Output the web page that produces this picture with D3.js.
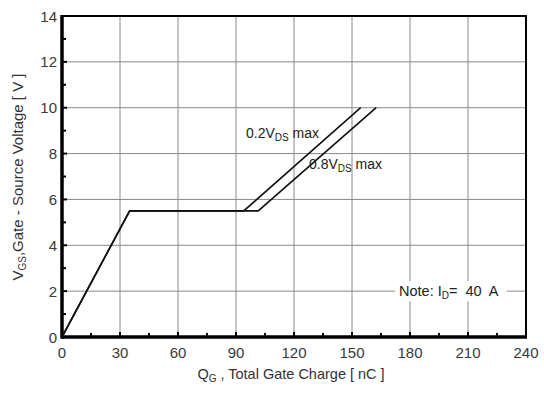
<!DOCTYPE html>
<html><head><meta charset="utf-8">
<script src="https://cdn.jsdelivr.net/npm/d3@7"></script>
<style>
body{margin:0;background:#fff;}
text{font-family:"Liberation Sans",Arial,sans-serif;}
</style></head>
<body><svg id="c" width="544" height="394"></svg>
<script>
const xTicks = [0,30,60,90,120,150,180,210,240];
const yTicks = [0,2,4,6,8,10,12,14];
const xMinor = [15,45,75,105,135,165,195,225];
const yMinor = [1,3,5,7,9,11,13];
const qg02 = [0,35,94,154.5];
const vgs02 = [0,5.5,5.5,10];
const qg08 = [0,35,101.5,162.5];
const vgs08 = [0,5.5,5.5,10];

const svg = d3.select("#c");
const L=62,R=526,T=16,B=337;
const x = d3.scaleLinear().domain([0,240]).range([L,R]);
const y = d3.scaleLinear().domain([0,14]).range([B,T]);

// grid
svg.append("g").selectAll("line").data(xTicks.slice(1,-1)).join("line")
  .attr("x1",d=>x(d)).attr("x2",d=>x(d)).attr("y1",T).attr("y2",B)
  .attr("stroke","#8a8a8a").attr("stroke-width",1);
svg.append("g").selectAll("line").data(yTicks.slice(1,-1)).join("line")
  .attr("y1",d=>y(d)).attr("y2",d=>y(d)).attr("x1",L).attr("x2",R)
  .attr("stroke","#8a8a8a").attr("stroke-width",1);

// note with white background
const note = svg.append("g");
note.append("rect").attr("x",395).attr("y",y(2)-10).attr("width",112).attr("height",20).attr("fill","#fff");
const nt = note.append("text").attr("x",399).attr("y",y(2)+5).attr("font-size",14.5).attr("fill","#222")
  .attr("xml:space","preserve").style("white-space","pre");
nt.append("tspan").text("Note: I");
nt.append("tspan").attr("font-size",10).attr("dy",3).text("D");
nt.append("tspan").attr("dy",-3).text("=  40  A");

// frame
svg.append("rect").attr("x",L).attr("y",T).attr("width",R-L).attr("height",B-T)
  .attr("fill","none").attr("stroke","#000").attr("stroke-width",2);
svg.append("line").attr("x1",L).attr("x2",L).attr("y1",T-1).attr("y2",B+1.5).attr("stroke","#000").attr("stroke-width",3.5);
svg.append("line").attr("x1",L-1).attr("x2",R+1).attr("y1",B).attr("y2",B).attr("stroke","#000").attr("stroke-width",3.5);

// ticks
svg.append("g").selectAll("line").data(yTicks).join("line")
  .attr("x1",L).attr("x2",L+5).attr("y1",d=>y(d)).attr("y2",d=>y(d)).attr("stroke","#000").attr("stroke-width",2);
svg.append("g").selectAll("line").data(yMinor).join("line")
  .attr("x1",L).attr("x2",L+4).attr("y1",d=>y(d)).attr("y2",d=>y(d)).attr("stroke","#000").attr("stroke-width",2);
svg.append("g").selectAll("line").data(xTicks).join("line")
  .attr("x1",d=>x(d)).attr("x2",d=>x(d)).attr("y1",B).attr("y2",B-5).attr("stroke","#000").attr("stroke-width",2);
svg.append("g").selectAll("line").data(xMinor).join("line")
  .attr("x1",d=>x(d)).attr("x2",d=>x(d)).attr("y1",B).attr("y2",B-4).attr("stroke","#000").attr("stroke-width",2);

// tick labels
svg.append("g").selectAll("text").data(yTicks).join("text")
  .attr("x",57).attr("y",d=>y(d)+5.5).attr("text-anchor","end").attr("font-size",15).attr("fill","#3a3a3a").text(d=>d);
svg.append("g").selectAll("text").data(xTicks).join("text")
  .attr("x",d=>x(d)).attr("y",358).attr("text-anchor","middle").attr("font-size",15).attr("fill","#3a3a3a").text(d=>d);

// curves
const line = d3.line().x(d=>x(d[0])).y(d=>y(d[1]));
svg.append("path").datum(qg08.map((q,i)=>[q,vgs08[i]])).attr("d",line)
  .attr("fill","none").attr("stroke","#111").attr("stroke-width",1.6);
svg.append("path").datum(qg02.map((q,i)=>[q,vgs02[i]])).attr("d",line)
  .attr("fill","none").attr("stroke","#111").attr("stroke-width",1.6);

// curve labels
const l1 = svg.append("text").attr("x",246).attr("y",138).attr("font-size",14).attr("fill","#222");
l1.append("tspan").text("0.2V");
l1.append("tspan").attr("font-size",10).attr("dy",3).text("DS");
l1.append("tspan").attr("dy",-3).text(" max");
const l2 = svg.append("text").attr("x",309).attr("y",169).attr("font-size",14).attr("fill","#222");
l2.append("tspan").text("0.8V");
l2.append("tspan").attr("font-size",10).attr("dy",3).text("DS");
l2.append("tspan").attr("dy",-3).text(" max");

// axis titles
const xt = svg.append("text").attr("x",291).attr("y",379).attr("text-anchor","middle").attr("font-size",14.5).attr("fill","#333");
xt.append("tspan").text("Q");
xt.append("tspan").attr("font-size",10).attr("dy",3).text("G");
xt.append("tspan").attr("dy",-3).text(" , Total Gate Charge [ nC ]");
const yt = svg.append("text").attr("transform","translate(23,177) rotate(-90)").attr("text-anchor","middle").attr("font-size",15).attr("fill","#333");
yt.append("tspan").text("V");
yt.append("tspan").attr("font-size",10).attr("dy",3).text("GS");
yt.append("tspan").attr("dy",-3).text(",Gate - Source Voltage [ V ]");
</script></body></html>
